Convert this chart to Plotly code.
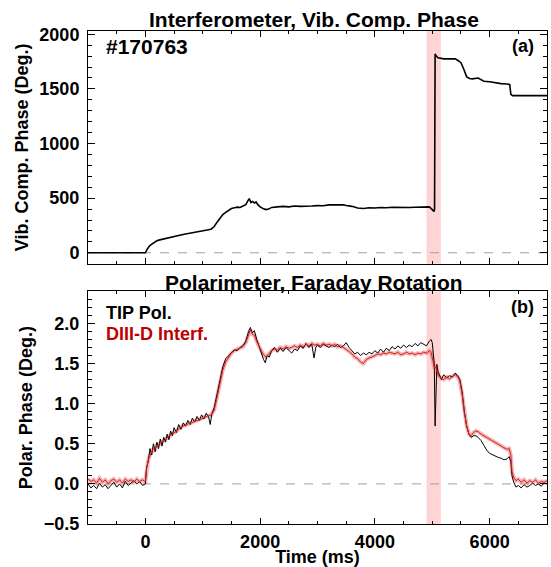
import plotly.graph_objects as go

# ---------------- data ----------------
vib_t = [-1000, -500, 0, 30, 60, 100, 150, 200, 250, 300, 400, 500, 600, 700, 800, 900, 1000,
         1100, 1150, 1200, 1250, 1300, 1350, 1400, 1450, 1500, 1550, 1600, 1650, 1700, 1750,
         1790, 1810, 1840, 1870, 1900, 1930, 1960, 2000, 2050, 2100, 2150, 2200, 2300, 2400,
         2500, 2600, 2700, 2800, 2900, 3000, 3100, 3200, 3300, 3400, 3450, 3500, 3600, 3700,
         3800, 3900, 4000, 4100, 4200, 4300, 4400, 4500, 4600, 4700, 4800, 4900, 4950, 5000,
         5030, 5040, 5050, 5070, 5100, 5200, 5300, 5400, 5450, 5500, 5550, 5600, 5650, 5700,
         5800, 5850, 5900, 6000, 6100, 6200, 6300, 6350, 6370, 6400, 7000]
vib_v = [0, 0, 0, 30, 55, 75, 95, 110, 118, 125, 135, 150, 160, 172, 180, 192, 200,
         210, 218, 240, 280, 320, 350, 370, 390, 405, 412, 418, 415, 425, 440,
         480, 495, 460, 470, 455, 465, 440, 420, 405, 395, 400, 415, 420, 425,
         420, 428, 425, 430, 428, 432, 430, 438, 440, 445, 440, 432, 425, 410,
         405, 412, 410, 415, 412, 416, 414, 418, 415, 416, 418, 425, 420, 395,
         378, 400, 1820, 1800, 1785, 1775, 1772, 1775, 1760, 1740, 1680, 1610, 1595, 1592,
         1600, 1585, 1570, 1565, 1555, 1548, 1545, 1540, 1450, 1438, 1438]

tip_t = [-1000, -950, -900, -850, -800, -750, -700, -650, -600, -550, -500, -450, -400, -350,
         -300, -250, -200, -150, -100, -50, 0, 20, 50, 80, 110, 140, 170, 200, 230, 260, 290,
         320, 350, 380, 410, 440, 470, 500, 540, 580, 620, 660, 700, 740, 780, 820, 860, 900,
         940, 980, 1020, 1060, 1100, 1130, 1160, 1200, 1250, 1300, 1350, 1400, 1450, 1500,
         1550, 1600, 1650, 1700, 1750, 1800, 1830, 1860, 1900, 1940, 1980, 2020, 2060, 2090,
         2120, 2160, 2200, 2250, 2300, 2350, 2400, 2450, 2500, 2550, 2600, 2650, 2700, 2750,
         2800, 2850, 2900, 2940, 2970, 3000, 3050, 3100, 3150, 3200, 3250, 3300, 3350, 3400,
         3450, 3500, 3550, 3600, 3650, 3700, 3750, 3800, 3850, 3900, 3950, 4000, 4050, 4100,
         4150, 4200, 4250, 4300, 4350, 4400, 4450, 4500, 4550, 4600, 4650, 4700, 4750, 4800,
         4850, 4900, 4950, 4980, 5000, 5020, 5035, 5050, 5065, 5080, 5100, 5130, 5160, 5200,
         5250, 5300, 5350, 5400, 5450, 5480, 5520, 5560, 5600, 5640, 5680, 5720, 5760, 5800,
         5850, 5900, 5950, 6000, 6050, 6100, 6150, 6200, 6250, 6300, 6340, 6370, 6390, 6420,
         6460, 6500, 6550, 6600, 6650, 6700, 6750, 6800, 6850, 6900, 6950, 7000]
tip_v = [0.00, -0.05, -0.02, -0.06, 0.01, -0.04, -0.01, -0.06, -0.02, 0.02, -0.04, 0.00, -0.05, 0.03,
         -0.02, 0.01, 0.04, 0.00, 0.03, -0.02, 0.00, 0.20, 0.28, 0.44, 0.36, 0.50, 0.40, 0.52, 0.44, 0.56, 0.47,
         0.58, 0.52, 0.62, 0.55, 0.66, 0.60, 0.70, 0.64, 0.74, 0.68, 0.76, 0.72, 0.79, 0.74, 0.82, 0.77, 0.84,
         0.79, 0.86, 0.81, 0.88, 0.84, 0.74, 0.88, 0.95, 1.12, 1.32, 1.46, 1.56, 1.60, 1.64,
         1.67, 1.66, 1.70, 1.72, 1.78, 1.90, 1.95, 1.88, 1.91, 1.80, 1.72, 1.62, 1.55, 1.51,
         1.60, 1.58, 1.66, 1.70, 1.64, 1.69, 1.65, 1.70, 1.66, 1.63, 1.68, 1.66, 1.72, 1.69,
         1.75, 1.70, 1.74, 1.57, 1.70, 1.73, 1.70, 1.74, 1.72, 1.70, 1.73, 1.71, 1.74, 1.70,
         1.72, 1.76, 1.70, 1.66, 1.62, 1.64, 1.60, 1.63, 1.61, 1.64, 1.62, 1.66, 1.63, 1.68,
         1.64, 1.69, 1.66, 1.71, 1.68, 1.72, 1.69, 1.73, 1.70, 1.73, 1.71, 1.75, 1.72, 1.76,
         1.74, 1.72, 1.78, 1.80, 1.76, 1.60, 1.50, 0.72, 1.20, 1.49, 1.40, 1.34, 1.30, 1.36,
         1.32, 1.35, 1.33, 1.38, 1.34, 1.30, 1.15, 0.90, 0.72, 0.62, 0.58, 0.60, 0.60, 0.58,
         0.54, 0.48, 0.42, 0.38, 0.36, 0.34, 0.33, 0.32, 0.30, 0.31, 0.34, 0.28, 0.10, 0.02,
         -0.04, -0.02, -0.05, -0.01, -0.04, -0.02, 0.01, -0.02, 0.00, -0.03, 0.01, 0.00]

int_t = [-1000, -950, -900, -850, -800, -750, -700, -650, -600, -550, -500, -450, -400, -350,
         -300, -250, -200, -150, -100, -50, 0, 20, 50, 80, 110, 140, 170, 200, 250, 300, 350,
         400, 450, 500, 550, 600, 650, 700, 750, 800, 850, 900, 950, 1000, 1050, 1100, 1150,
         1200, 1250, 1300, 1350, 1400, 1450, 1500, 1550, 1600, 1650, 1700, 1750, 1800, 1830,
         1860, 1900, 1950, 2000, 2050, 2100, 2150, 2200, 2250, 2300, 2350, 2400, 2450, 2500,
         2550, 2600, 2650, 2700, 2750, 2800, 2850, 2900, 2950, 3000, 3050, 3100, 3150, 3200,
         3250, 3300, 3350, 3400, 3450, 3500, 3550, 3600, 3650, 3700, 3750, 3800, 3850, 3900,
         3950, 4000, 4050, 4100, 4150, 4200, 4250, 4300, 4350, 4400, 4450, 4500, 4550, 4600,
         4650, 4700, 4750, 4800, 4850, 4900, 4950, 4980, 5000, 5020, 5040, 5060, 5080, 5100,
         5150, 5200, 5250, 5300, 5350, 5400, 5450, 5480, 5520, 5560, 5600, 5640, 5680, 5720,
         5760, 5800, 5850, 5900, 5950, 6000, 6050, 6100, 6150, 6200, 6250, 6300, 6340, 6370,
         6390, 6420, 6460, 6500, 6550, 6600, 6650, 6700, 6750, 6800, 6850, 6900, 6950, 7000]
int_v = [0.06, 0.03, 0.05, 0.01, 0.07, 0.02, 0.05, 0.00, 0.04, 0.06, 0.02, 0.05, 0.01, 0.06,
         0.03, 0.05, 0.02, 0.06, 0.03, 0.05, 0.03, 0.18, 0.30, 0.36, 0.40, 0.44, 0.43, 0.48, 0.50, 0.53, 0.55,
         0.59, 0.61, 0.64, 0.66, 0.70, 0.72, 0.73, 0.75, 0.76, 0.78, 0.79, 0.80, 0.82, 0.84, 0.85, 0.86,
         0.92, 1.08, 1.26, 1.42, 1.52, 1.58, 1.63, 1.66, 1.68, 1.70, 1.71, 1.76, 1.86, 1.92,
         1.87, 1.85, 1.76, 1.68, 1.62, 1.58, 1.62, 1.66, 1.68, 1.67, 1.70, 1.68, 1.71, 1.69,
         1.70, 1.72, 1.70, 1.73, 1.71, 1.74, 1.72, 1.75, 1.73, 1.74, 1.72, 1.75, 1.73, 1.74,
         1.72, 1.74, 1.71, 1.72, 1.70, 1.68, 1.65, 1.62, 1.58, 1.56, 1.52, 1.50, 1.55, 1.57,
         1.58, 1.60, 1.62, 1.61, 1.63, 1.62, 1.64, 1.63, 1.62, 1.64, 1.61, 1.62, 1.64, 1.62,
         1.63, 1.61, 1.63, 1.62, 1.64, 1.63, 1.66, 1.64, 1.58, 1.50, 1.44, 1.46, 1.40, 1.35,
         1.32, 1.30, 1.33, 1.31, 1.34, 1.36, 1.33, 1.28, 1.12, 0.88, 0.72, 0.62, 0.60, 0.64,
         0.66, 0.65, 0.62, 0.60, 0.58, 0.56, 0.54, 0.52, 0.50, 0.47, 0.45, 0.43, 0.44, 0.36,
         0.15, 0.08, 0.04, 0.06, 0.02, 0.05, 0.01, 0.04, 0.02, 0.05, 0.01, 0.03, 0.02, 0.04]

disrupt_window = [4900, 5150]
x_ticks = [0, 2000, 4000, 6000]
top_title = "Interferometer, Vib. Comp. Phase"
bottom_title = "Polarimeter, Faraday Rotation"

# ---------------- figure ----------------
FONT = "Liberation Sans"
RED = "#c00000"

fig = go.Figure()

fig.add_trace(go.Scatter(x=vib_t, y=vib_v, mode="lines", line=dict(color="black", width=1.6),
                         xaxis="x", yaxis="y", showlegend=False))
fig.add_trace(go.Scatter(x=int_t, y=int_v, mode="lines", line=dict(color="rgba(235,90,90,0.45)", width=4),
                         xaxis="x2", yaxis="y2", showlegend=False, hoverinfo="skip"))
fig.add_trace(go.Scatter(x=tip_t, y=tip_v, mode="lines", line=dict(color="black", width=1),
                         xaxis="x2", yaxis="y2", name="TIP Pol.", showlegend=False))
fig.add_trace(go.Scatter(x=int_t, y=int_v, mode="lines", line=dict(color="#d42020", width=1),
                         xaxis="x2", yaxis="y2", name="DIII-D Interf.", showlegend=False))

tickfont = dict(family=FONT, size=18, color="black", weight="bold")
common_x = dict(range=[-1000, 7000], tickmode="array", tickvals=x_ticks, ticks="inside",
                ticklen=6, tickwidth=1, tickcolor="black", showline=True, linecolor="black",
                linewidth=1, mirror="allticks", showgrid=False, zeroline=False,
                minor=dict(dtick=500, tick0=0, ticklen=3, ticks="inside", tickcolor="black", showgrid=False),
                tickfont=tickfont)
common_y = dict(ticks="inside", ticklen=7, tickwidth=1, tickcolor="black", showline=True,
                linecolor="black", linewidth=1, mirror="allticks", showgrid=False, zeroline=False,
                tickfont=tickfont, ticklabelstandoff=4)

fig.update_layout(
    width=551, height=567, autosize=False,
    margin=dict(l=88, r=3, t=31, b=40),
    paper_bgcolor="white", plot_bgcolor="white",
    xaxis=dict(domain=[0, 1], anchor="y", showticklabels=False, **common_x),
    xaxis2=dict(domain=[0, 1], anchor="y2", showticklabels=True, ticklabelstandoff=1,
                title=dict(text="Time (ms)", font=dict(family=FONT, size=18, color="black", weight="bold"),
                           standoff=0),
                **common_x),
    yaxis=dict(domain=[0.528, 1], anchor="x", range=[-100, 2030], tickmode="linear", tick0=0, dtick=500,
               minor=dict(dtick=100, tick0=0, ticklen=4, ticks="inside", tickcolor="black", showgrid=False),
               title=dict(text="Vib. Comp. Phase (Deg.)", font=dict(family=FONT, size=18, color="black", weight="bold"),
                          standoff=6),
               **common_y),
    yaxis2=dict(domain=[0, 0.472], anchor="x2", range=[-0.5, 2.4], tickmode="linear", tick0=0, dtick=0.5,
                tickformat=".1f",
                minor=dict(dtick=0.1, tick0=0, ticklen=4, ticks="inside", tickcolor="black", showgrid=False),
                title=dict(text="Polar. Phase (Deg.)", font=dict(family=FONT, size=18, color="black", weight="bold"),
                           standoff=6),
                **common_y),
)

# shaded disruption window
fig.add_shape(type="rect", xref="x", yref="y domain", x0=disrupt_window[0], x1=disrupt_window[1],
              y0=0, y1=1, fillcolor="#ffd4d4", line=dict(width=0), layer="below")
fig.add_shape(type="rect", xref="x2", yref="y2 domain", x0=disrupt_window[0], x1=disrupt_window[1],
              y0=0, y1=1, fillcolor="#ffd4d4", line=dict(width=0), layer="below")
# dashed zero lines
fig.add_shape(type="line", xref="x domain", yref="y", x0=0, x1=1, y0=0, y1=0,
              line=dict(color="#a0a0a0", width=1, dash="dash"), layer="below")
fig.add_shape(type="line", xref="x2 domain", yref="y2", x0=0, x1=1, y0=0, y1=0,
              line=dict(color="#a0a0a0", width=1, dash="dash"), layer="below")

def ann(text, x, y, size, xanchor="center", color="black", xref="paper", yref="paper"):
    fig.add_annotation(text=text, x=x, y=y, xref=xref, yref=yref, xanchor=xanchor, yanchor="middle",
                       showarrow=False, font=dict(family=FONT, size=size, color=color, weight="bold"))

ann(top_title, 0.493, 1.023, 21)
ann(bottom_title, 0.493, 0.49, 21)
ann("#170763", 0.035, 0.968, 21, xanchor="left")
ann("(a)", 0.975, 0.97, 18, xanchor="right")
ann("(b)", 0.975, 0.4395, 18, xanchor="right")
ann("TIP Pol.", 0.035, 0.4274, 18, xanchor="left")
ann("DIII-D Interf.", 0.035, 0.3857, 18, xanchor="left", color=RED)

fig.write_html("out.html",
               config={"displayModeBar": False},
               post_script="document.body.style.margin='0';document.body.style.padding='0';"
                           "document.documentElement.style.overflow='hidden';")
